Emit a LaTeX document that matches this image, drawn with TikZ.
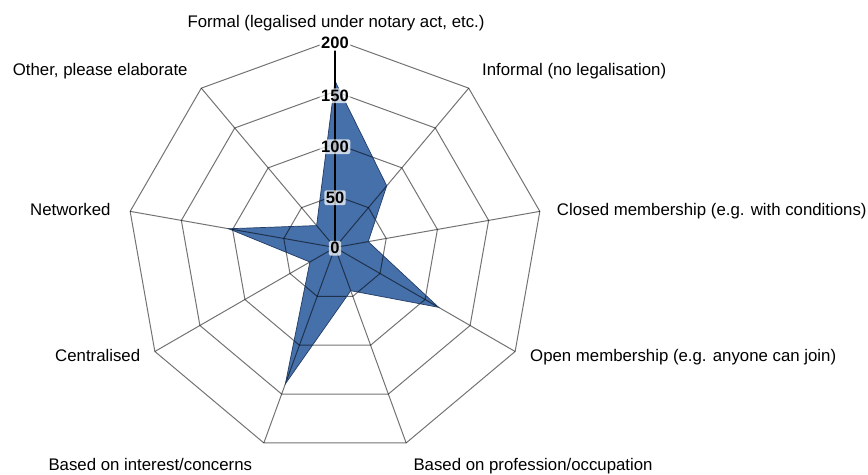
\documentclass[tikz,border=0pt]{standalone}
\usepackage{fontspec}
\setmainfont{Liberation Sans}
\begin{document}
\begin{tikzpicture}[x=1pt,y=1pt,
  lab/.style={font=\fontsize{16.8}{20}\selectfont, inner sep=0pt, anchor=base west},
  ticklab/.style={font=\fontsize{16.5}{17}\selectfont\bfseries, fill=white, fill opacity=0.72, text opacity=1, rounded corners=2pt, inner xsep=1.5pt, inner ysep=1.5pt},
  gridline/.style={draw=black, draw opacity=0.55, line width=1pt},
]
\definecolor{serfill}{RGB}{70,112,170}
\definecolor{serline}{RGB}{35,60,100}
\path[fill=white] (0,0) rectangle (868,474);
\begin{scope}[shift={(335,226.5)}]
  \coordinate (c) at (0,0);
  \foreach \a/\n in {90/a0,50/a1,10/a2,-30/a3,-70/a4,-110/a5,-150/a6,-190/a7,-230/a8}
    \coordinate (\n) at (\a:208);
  % data polygon
  \fill[serfill] (90:166.5) -- (50:80.5) -- (10:33.7) -- (-30:119.6) -- (-70:46)
     -- (-110:145) -- (-150:29) -- (-190:108) -- (-230:28.6) -- cycle;
  % rings
  \foreach \r in {52,104,156,208}
    \draw[gridline] (90:\r) -- (50:\r) -- (10:\r) -- (-30:\r) -- (-70:\r)
       -- (-110:\r) -- (-150:\r) -- (-190:\r) -- (-230:\r) -- cycle;
  % spokes
  \foreach \n in {a1,a2,a3,a4,a5,a6,a7,a8}
    \draw[gridline] (c) -- (\n);
  % outline
  \draw[serline, line width=0.7pt, line join=miter] (90:166.5) -- (50:80.5) -- (10:33.7) -- (-30:119.6) -- (-70:46)
     -- (-110:145) -- (-150:29) -- (-190:108) -- (-230:28.6) -- cycle;
  % vertical axis
  \draw[black, line width=1.4pt] (c) -- (a0);
  % tick labels
  \node[ticklab] (t0) at (0,-0.8) {0};
  \node[ticklab] (t50) at (0,49.8) {50};
  \node[ticklab] (t100) at (0,100.8) {100};
  \node[ticklab] (t150) at (0,151.8) {150};
  \node[ticklab, fill opacity=1] (t200) at (0,204.2) {200};
\end{scope}
% axis labels
\node[lab, anchor=base] (lformal) at (336,446.3) {Formal (legalised under notary act, etc.)};
\node[lab] (lother) at (12.7,398.3) {Other, please elaborate};
\node[lab] (linformal) at (482,398.3) {Informal (no legalisation)};
\node[lab] (lnet) at (30,258) {Networked};
\node[lab] (lclosed) at (556.7,258) {Closed membership (e.g. with conditions)};
\node[lab] (lcentral) at (55,112) {Centralised};
\node[lab] (lopen) at (530,112) {Open membership (e.g. anyone can join)};
\node[lab] (linterest) at (48.3,3.3) {Based on interest/concerns};
\node[lab] (lprof) at (413.3,3.3) {Based on profession/occupation};
\end{tikzpicture}
\end{document}
